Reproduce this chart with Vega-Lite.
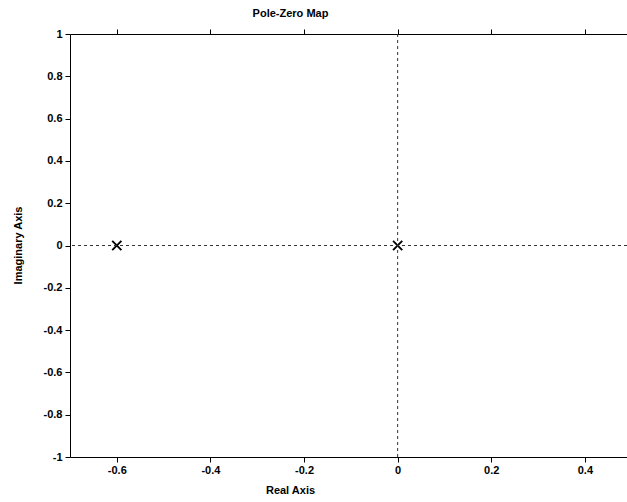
{
  "$schema": "https://vega.github.io/schema/vega-lite/v6.json",
  "autosize": "none",
  "width": 557,
  "height": 423,
  "padding": {"left": 70, "top": 34, "right": 0, "bottom": 45},
  "background": "white",
  "title": {"text": "Pole-Zero Map", "dx": -58, "offset": 9, "font": "Liberation Sans", "fontSize": 11, "fontWeight": "bold", "color": "black"},
  "config": {
    "view": {"stroke": null},
    "axis": {
      "domainColor": "black", "domainWidth": 1, "tickColor": "black", "tickSize": 5, "tickWidth": 1,
      "labelFont": "Liberation Sans", "labelFontSize": 11, "labelFontWeight": "bold", "labelColor": "black",
      "titleFont": "Liberation Sans", "titleFontSize": 11, "titleFontWeight": "bold", "titleColor": "black",
      "grid": false, "labelFlush": false, "labelOverlap": false
    }
  },
  "layer": [
    {
      "data": {"values": [{"re": -0.6, "im": 0, "kind": "pole"}, {"re": 0, "im": 0, "kind": "pole"}]},
      "mark": {"type": "point", "shape": "M-1,-1L1,1M-1,1L1,-1", "filled": false, "stroke": "black", "strokeWidth": 1.9, "size": 85, "opacity": 1},
      "encoding": {
        "x": {"field": "re", "type": "quantitative",
          "scale": {"domain": [-0.7, 0.49], "nice": false, "zero": false},
          "axis": {"orient": "bottom", "title": "Real Axis", "values": [-0.6, -0.4, -0.2, 0, 0.2, 0.4],
            "labelExpr": "replace(format(datum.value,'~g'),'\u2212','-')", "labelPadding": 2,
            "titleX": 220, "titleY": 33, "titleBaseline": "middle",
            "encode": {"ticks": {"update": {"y2": {"value": -5}}}}}},
        "y": {"field": "im", "type": "quantitative",
          "scale": {"domain": [-1, 1], "nice": false, "zero": false},
          "axis": {"orient": "left", "title": "Imaginary Axis", "values": [-1, -0.8, -0.6, -0.4, -0.2, 0, 0.2, 0.4, 0.6, 0.8, 1],
            "labelExpr": "replace(format(datum.value,'~g'),'\u2212','-')", "labelPadding": 3,
            "titleX": -52, "titleY": 211, "titleBaseline": "middle", "titleAngle": -90,
            "encode": {"ticks": {"update": {"x2": {"value": 5}}}}}}
      }
    },
    {
      "data": {"values": [{"v": 0}]},
      "mark": {"type": "rule", "stroke": "#333333", "strokeWidth": 1, "strokeDash": [3, 3]},
      "encoding": {
        "y": {"field": "v", "type": "quantitative",
          "axis": {"orient": "left", "title": "Imaginary Axis", "values": [-1, -0.8, -0.6, -0.4, -0.2, 0, 0.2, 0.4, 0.6, 0.8, 1],
            "labelExpr": "replace(format(datum.value,'~g'),'\u2212','-')", "labelPadding": 3,
            "titleX": -52, "titleY": 211, "titleBaseline": "middle", "titleAngle": -90,
            "encode": {"ticks": {"update": {"x2": {"value": 5}}}}}}
      }
    },
    {
      "data": {"values": [{"v": 0}]},
      "mark": {"type": "rule", "stroke": "#333333", "strokeWidth": 1, "strokeDash": [3, 3]},
      "encoding": {
        "x": {"field": "v", "type": "quantitative",
          "axis": {"orient": "top", "labels": false, "title": null, "values": [-0.6, -0.4, -0.2, 0, 0.2, 0.4],
            "encode": {"ticks": {"update": {"y2": {"value": 5}}}}}}
      }
    }
  ]
}
